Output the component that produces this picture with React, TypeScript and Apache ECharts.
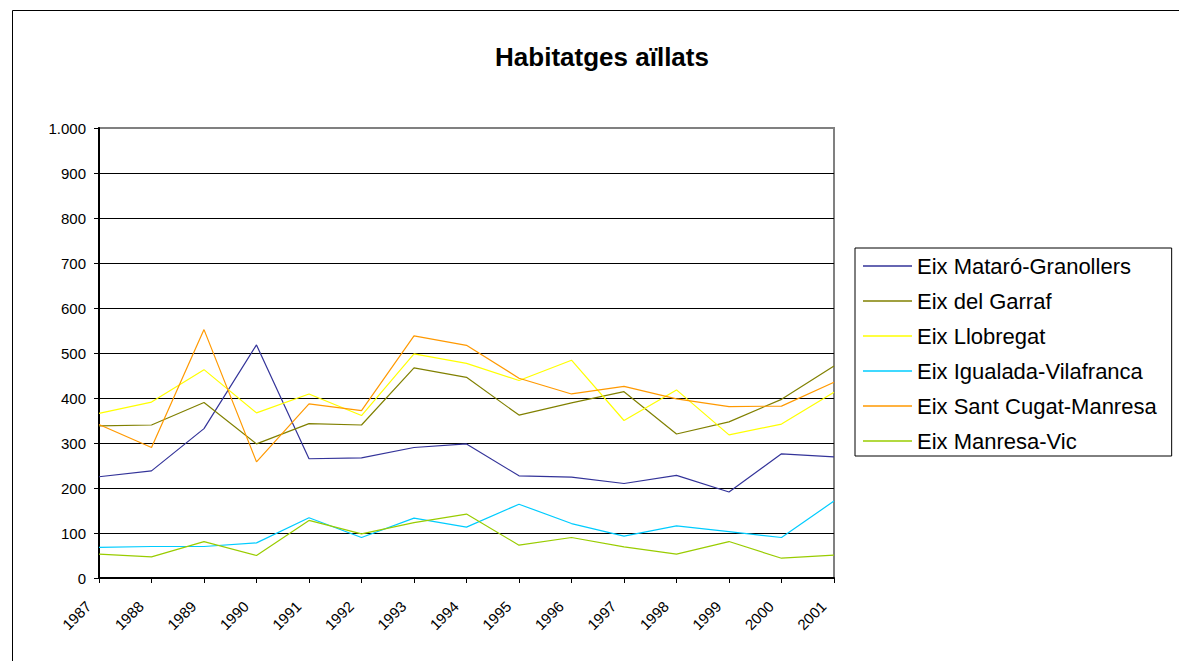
import React, { useEffect, useRef } from "react";
import * as echarts from "echarts";

const years = ["1987", "1988", "1989", "1990", "1991", "1992", "1993", "1994", "1995", "1996", "1997", "1998", "1999", "2000", "2001"];
const seriesNames = [
  "Eix Mataró-Granollers",
  "Eix del Garraf",
  "Eix Llobregat",
  "Eix Igualada-Vilafranca",
  "Eix Sant Cugat-Manresa",
  "Eix Manresa-Vic",
];
const mataro = [225, 238, 332, 518, 265, 267, 290, 298, 227, 224, 210, 228, 191, 276, 269];
const garraf = [338, 340, 390, 298, 343, 340, 467, 446, 362, 389, 414, 320, 347, 397, 471];
const llobregat = [366, 391, 463, 367, 409, 361, 498, 477, 439, 484, 350, 418, 318, 342, 413];
const igualada = [68, 70, 70, 78, 134, 90, 133, 113, 164, 121, 93, 116, 103, 90, 171];
const santCugat = [341, 290, 552, 258, 387, 372, 538, 517, 444, 409, 426, 398, 381, 382, 435];
const manresaVic = [53, 47, 81, 50, 128, 98, 123, 142, 73, 90, 69, 53, 81, 44, 51];
const colors = ["#333399", "#808000", "#FFFF00", "#00CCFF", "#FF9900", "#99CC00"];
const yTicks = { min: 0, max: 1000, interval: 100 };

const FONT = "'Liberation Sans', Arial, sans-serif";

export default function App() {
  const ref = useRef<HTMLDivElement>(null);
  useEffect(() => {
    if (!ref.current) return;
    const chart = echarts.init(ref.current, null, { renderer: "svg" });
    const data = [mataro, garraf, llobregat, igualada, santCugat, manresaVic];
    chart.setOption({
      animation: false,
      backgroundColor: "#ffffff",
      textStyle: { fontFamily: FONT },
      graphic: [
        {
          type: "rect",
          shape: { x: 12.5, y: 10.5, width: 1200, height: 700 },
          style: { fill: "none", stroke: "#000", lineWidth: 1 },
          silent: true,
        },
        {
          type: "text",
          x: 602,
          y: 57,
          style: {
            text: "Habitatges aïllats",
            align: "center",
            verticalAlign: "middle",
            font: `bold 26px ${FONT}`,
            fill: "#000",
          },
        },
      ],
      legend: {
        left: 855,
        top: 248,
        orient: "vertical",
        borderColor: "#000",
        borderWidth: 1,
        padding: [7, 15, 4, 8],
        icon: "rect",
        itemWidth: 49,
        itemHeight: 1.5,
        itemGap: 13,
        textStyle: { fontSize: 22, lineHeight: 22, color: "#000", fontFamily: FONT },
        data: seriesNames,
      },
      grid: {
        left: 99,
        right: 345,
        top: 128,
        bottom: 83,
        show: true,
        borderColor: "#808080",
        borderWidth: 2,
        backgroundColor: "#fff",
      },
      xAxis: {
        type: "category",
        data: years,
        boundaryGap: false,
        axisLine: { lineStyle: { color: "#000", width: 2 } },
        axisTick: { show: true, length: 5, lineStyle: { color: "#000" } },
        axisLabel: {
          rotate: 45,
          fontSize: 15,
          color: "#000",
          margin: 15,
          padding: [0, 15, 0, 0],
          fontFamily: FONT,
        },
        splitLine: { show: false },
      },
      yAxis: {
        type: "value",
        min: yTicks.min,
        max: yTicks.max,
        interval: yTicks.interval,
        axisLine: { show: true, lineStyle: { color: "#000", width: 2 } },
        axisTick: { show: true, length: 5, lineStyle: { color: "#000" } },
        axisLabel: {
          fontSize: 15,
          color: "#000",
          margin: 13,
          fontFamily: FONT,
          formatter: (v: number) => String(v).replace(/\B(?=(\d{3})+(?!\d))/g, "."),
        },
        splitLine: { show: true, showMaxLine: false, lineStyle: { color: "#000", width: 1 } },
      },
      series: seriesNames.map((name, i) => ({
        name,
        type: "line",
        data: data[i],
        symbol: "none",
        showSymbol: false,
        color: colors[i],
        lineStyle: { color: colors[i], width: 1.2 },
      })),
    });
    return () => chart.dispose();
  }, []);
  return (
    <div
      ref={ref}
      style={{ position: "absolute", left: 0, top: 0, width: 1179, height: 661 }}
    />
  );
}
